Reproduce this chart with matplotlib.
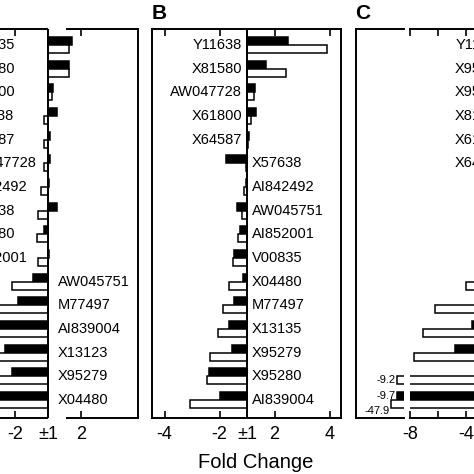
import numpy as np
import matplotlib
matplotlib.use('Agg')
import matplotlib.pyplot as plt

plt.rcParams['font.family'] = ['Liberation Sans', 'DejaVu Sans']

# fold change values, black = first series, white = second series
genes_a = ['X13135', 'X95280', 'X61800', 'Y11638', 'X64587', 'AW047728', 'AI842492', 'X57638',
           'X81580', 'AI852001', 'AW045751', 'M77497', 'AI839004', 'X13123', 'X95279', 'X04480']
black_a = [1.74, 1.64, 1.15, 1.26, 1.05, 1.05, 1.04, 1.26, -1.12, 1.04, -1.45, -1.92, -3.2, -2.3, -2.1, -3.0]
white_a = [1.64, 1.64, 1.12, -1.12, -1.11, -1.12, -1.22, -1.29, -1.32, -1.3, -2.1, -2.8, -3.0, -2.9, -2.7, -3.1]

genes_b = ['Y11638', 'X81580', 'AW047728', 'X61800', 'X64587', 'X57638', 'AI842492', 'AW045751',
           'AI852001', 'V00835', 'X04480', 'M77497', 'X13135', 'X95279', 'X95280', 'AI839004']
black_b = [2.5, 1.7, 1.3, 1.33, 1.08, -1.76, -1.03, -1.35, -1.25, -1.47, -1.15, -1.47, -1.65, -1.55, -2.38, -1.98]
white_b = [3.9, 2.4, 1.25, 1.15, 1.02, -1.05, -1.12, -1.18, -1.33, -1.5, -1.65, -1.87, -2.05, -2.35, -2.45, -3.07]

genes_c = ['Y11638', 'X95279', 'X95280', 'X81580', 'X61800', 'X64587', 'X57638', 'AW047728',
           'AI842492', 'AW045751', 'AI852001', 'V00835', 'X04480', 'M77497', 'X13135', 'AI839004']
black_c = [3.5, 2.8, 2.2, 1.8, 1.5, 1.3, -1.2, -1.4, -1.6, -2.0, -2.5, -2.8, -3.6, -4.8, -2.2, -9.7]
white_c = [5.0, 3.2, 2.6, 2.1, 1.7, 1.4, -1.5, -1.8, -2.2, -2.6, -4.0, -6.2, -7.1, -7.7, -9.2, -47.9]

n_pos = {'a': 10, 'b': 5, 'c': 6}   # rows labelled on the left side

W, H = 474, 474
TOP, BOT = 29, 418
LW = 1.4
BH = 0.34

fig = plt.figure(figsize=(W / 100, H / 100), dpi=100)


def to_units(v):
    v = np.asarray(v, dtype=float)
    return np.sign(v) * (np.abs(v) - 1)


def make_axes(x0, x1, zero, scale):
    ax = fig.add_axes([x0 / W, 1 - BOT / H, (x1 - x0) / W, (BOT - TOP) / H])
    ax.set_ylim(16 + (BOT - 400) / 23.65, 1 - (45 - TOP) / 23.65)
    ax.set_yticks([])
    for s in ax.spines.values():
        s.set_linewidth(LW)
    ax.tick_params(axis='x', direction='in', top=True, length=4.7, width=1.2,
                   labelsize=13, pad=6)
    ax.lims = ((x0 - zero) / scale, (x1 - zero) / scale)
    return ax


def draw_bars(ax, black, white):
    rows = np.arange(1, 17)
    ax.barh(rows - BH / 2, to_units(black), height=BH, color='black',
            edgecolor='black', linewidth=1.1)
    ax.barh(rows + BH / 2, to_units(white), height=BH, color='white',
            edgecolor='black', linewidth=1.1)


def draw_labels(ax, genes, npos, xl, xr, left_ha='right'):
    for i, g in enumerate(genes):
        if i < npos:
            ax.text(xl, i + 1, g, ha=left_ha, va='center', fontsize=10.5, clip_on=False)
        else:
            ax.text(xr, i + 1, g, ha='left', va='center', fontsize=10.5, clip_on=False)


# ---- panel A ----
sa = 33.0
ax_a = make_axes(-120, 138, 48, sa)
draw_bars(ax_a, black_a, white_a)
ax_a.axvline(0, color='black', lw=LW)
ax_a.spines['top'].set_visible(False)
ax_a.spines['bottom'].set_visible(False)
ax_a.set_xticks([-1, 0, 1], ['-2', '±1', '2'])
ax_a.set_xlim(*ax_a.lims)
xl, xr = ax_a.lims
gap_end = (66 - 48) / sa
for y in (0, 1):
    ax_a.hlines(y, xl, 0, transform=ax_a.get_xaxis_transform(), color='black', lw=LW, clip_on=False)
    ax_a.hlines(y, gap_end, xr, transform=ax_a.get_xaxis_transform(), color='black', lw=LW, clip_on=False)
draw_labels(ax_a, genes_a, n_pos['a'], (-35 - 48) / sa, 10 / sa, left_ha='left')

# ---- panel B ----
sb = 27.5
ax_b = make_axes(152, 341, 247, sb)
draw_bars(ax_b, black_b, white_b)
ax_b.axvline(0, color='black', lw=LW)
ax_b.set_xticks([-3, -1, 0, 1, 3], ['-4', '-2', '±1', '2', '4'])
ax_b.set_xlim(*ax_b.lims)
draw_labels(ax_b, genes_b, n_pos['b'], -5 / sb, 5 / sb)

# ---- panel C (broken axis) ----
sc = 14.0
brk = -7.0                      # fold change -8
ax_c = make_axes(410, 560, 508, sc)
draw_bars(ax_c, black_c, white_c)
ax_c.axvline(0, color='black', lw=LW)
ax_c.spines['left'].set_visible(False)
ax_c.set_xticks([-7, -5, -3, -1, 0, 1, 3], ['-8', '', '-4', '', '±1', '', '4'])
ax_c.set_xlim(*ax_c.lims)
draw_labels(ax_c, genes_c, n_pos['c'], -3 / sc, 5 / sc)

ax_c2 = fig.add_axes([356 / W, 1 - BOT / H, (404 - 356) / W, (BOT - TOP) / H])
edge = brk - 6 / sc
ax_c2.set_xticks([])
ax_c2.set_yticks([])
ax_c2.set_xlim(edge - 48 / sc, edge)
ax_c2.set_ylim(ax_c.get_ylim())
ax_c2.spines['right'].set_visible(False)
for s in ax_c2.spines.values():
    s.set_linewidth(LW)
rows = np.arange(1, 17)
labels = []
for vals, off, col in ((black_c, -BH / 2, 'black'), (white_c, BH / 2, 'white')):
    for r, v in zip(rows, vals):
        if v < -8:
            end = edge - (0.48 + 0.011 * (abs(v) - 8))
            ax_c2.barh(r + off, end - (edge + 0.5), left=edge + 0.5, height=BH,
                       color=col, edgecolor='black', linewidth=1.1)
            labels.append((r + off, end, v))
labels.sort()
prev = None
for y, end, v in labels:
    if prev is not None and y - prev < 0.62:
        y = prev + 0.62
    ax_c2.text(end - 0.12, y, f'{v:.1f}', ha='right', va='center', fontsize=8, clip_on=False)
    prev = y

# panel letters and axis title
fig.text(152 / W, 1 - 4 / H, 'B', fontsize=15, fontweight='bold', ha='left', va='top')
fig.text(355 / W, 1 - 4 / H, 'C', fontsize=15, fontweight='bold', ha='left', va='top')
fig.text(256 / W, 1 - 462 / H, 'Fold Change', fontsize=14.5, ha='center', va='center')

fig.savefig('out.png', dpi=100)
